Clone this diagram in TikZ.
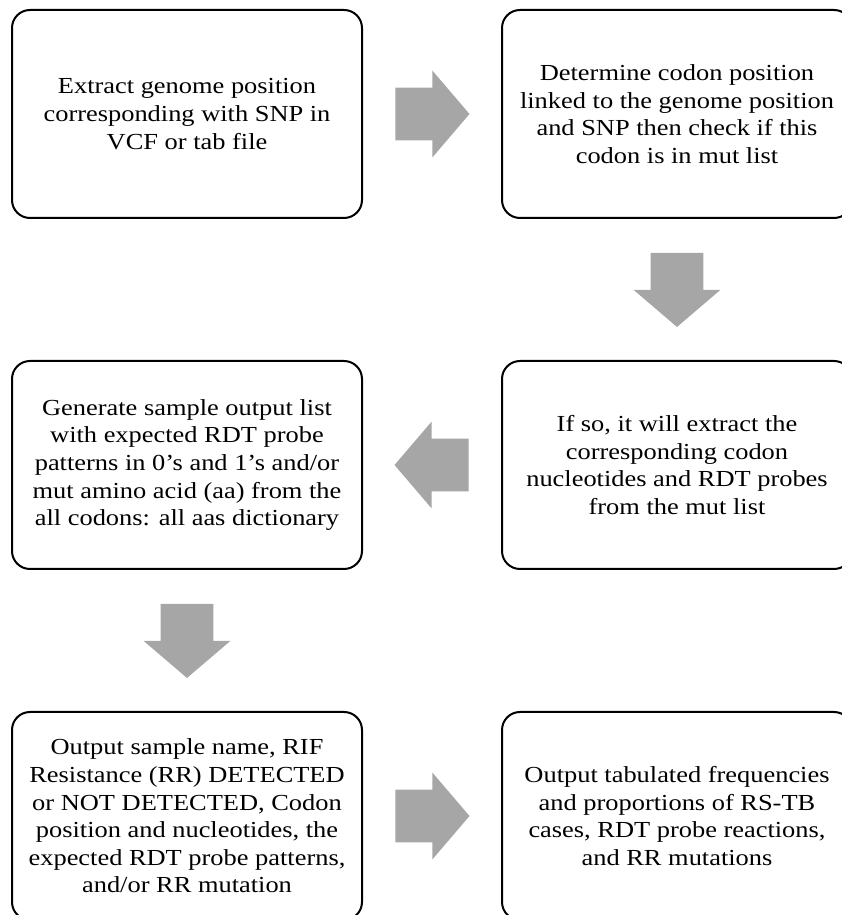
\documentclass[tikz,border=0pt]{standalone}
\usepackage{fontspec}
\setmainfont{Liberation Serif}[FakeStretch=1.15]
\usetikzlibrary{positioning,calc,shapes.arrows}
\definecolor{arrowgray}{RGB}{166,166,166}

\begin{document}
\begin{tikzpicture}[thick,
  stepbox/.style={draw, line width=0.06cm, rounded corners=0.54cm, minimum width=10.5cm, minimum height=6.24cm, align=center, font=\fontsize{19.6pt}{23.6pt}\selectfont},
  fatarrow/.style={single arrow, fill=arrowgray, draw=none, anchor=tail, minimum height=2.22cm, inner xsep=0pt, inner ysep=0.78cm, single arrow head extend=0.51cm, single arrow tip angle=99, single arrow head indent=0pt}]
  \useasboundingbox (0,0) rectangle (25.26,27.45);
  \node[stepbox] (extract) at (5.61,24.03) {Extract genome position\\corresponding with SNP in\\VCF or tab file};
  \node[stepbox, right=4.14cm of extract] (codon) {Determine codon position\\linked to the genome position\\and SNP then check if this\\codon is in mut list};
  \node[stepbox, below=4.23cm of codon] (probes) {If so, it will extract the\\corresponding codon\\nucleotides and RDT probes\\from the mut list};
  \node[stepbox, left=4.14cm of probes] (generate) {Generate sample output list\\with expected RDT probe\\patterns in 0’s and 1’s and/or\\mut amino acid (aa) from the\\all codons: all aas dictionary};
  \node[stepbox, below=4.23cm of generate] (report) {Output sample name, RIF\\Resistance (RR) DETECTED\\or NOT DETECTED, Codon\\position and nucleotides, the\\expected RDT probe patterns,\\and/or RR mutation};
  \node[stepbox, right=4.14cm of report] (tabulate) {Output tabulated frequencies\\and proportions of RS-TB\\cases, RDT probe reactions,\\and RR mutations};

  \node[fatarrow] (a1) at ($(extract.east)!0.5!(codon.west)+(-1.11,0)$) {};
  \node[fatarrow, rotate=-90] (a2) at ($(codon.south)!0.5!(probes.north)+(0,1.11)$) {};
  \node[fatarrow, rotate=180] (a3) at ($(probes.west)!0.5!(generate.east)+(1.11,0)$) {};
  \node[fatarrow, rotate=-90] (a4) at ($(generate.south)!0.5!(report.north)+(0,1.11)$) {};
  \node[fatarrow] (a5) at ($(report.east)!0.5!(tabulate.west)+(-1.11,0)$) {};
\end{tikzpicture}
\end{document}
